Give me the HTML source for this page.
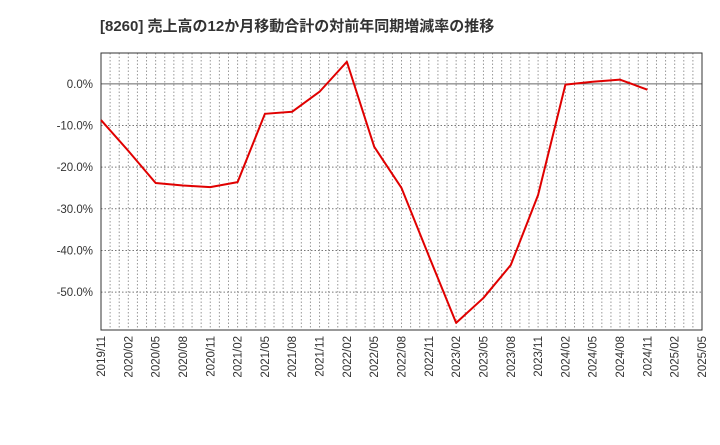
<!DOCTYPE html>
<html><head><meta charset="utf-8"><style>
body{margin:0;background:#fff;font-family:"Liberation Sans","Noto Sans CJK JP",sans-serif;}
</style></head><body>
<svg id="chart" width="720" height="440" xmlns="http://www.w3.org/2000/svg">
<text x="100" y="31" font-size="15" font-weight="bold" fill="#333" font-family="Liberation Sans, Noto Sans CJK JP, sans-serif">[8260]  売上高の12か月移動合計の対前年同期増減率の推移</text>
<g id="grid"></g><g id="axes"></g><g id="series"></g>
</svg>
<script>
const xLabels=["2019/11","2020/02","2020/05","2020/08","2020/11","2021/02","2021/05","2021/08","2021/11","2022/02","2022/05","2022/08","2022/11","2023/02","2023/05","2023/08","2023/11","2024/02","2024/05","2024/08","2024/11","2025/02","2025/05"];
const yTicks=[0,-10,-20,-30,-40,-50];
const values=[-8.7,-16.1,-23.8,-24.4,-24.8,-23.6,-7.2,-6.7,-1.9,5.3,-15.1,-25.0,-41.3,-57.4,-51.4,-43.5,-26.7,-0.2,0.5,1.0,-1.4];
const L=101,R=702,T=53,B=330,yMax=7.4,yMin=-59.1;
const X=i=>L+(R-L)*i/(xLabels.length-1);
const Y=v=>T+(yMax-v)/(yMax-yMin)*(B-T);
const NS="http://www.w3.org/2000/svg";
function mk(tag,parent,attrs){const e=document.createElementNS(NS,tag);for(const k in attrs)e.setAttribute(k,attrs[k]);document.getElementById(parent).appendChild(e);return e;}
const months=(xLabels.length-1)*3;
for(let m=1;m<months;m++){const x=L+(R-L)*m/months;
const g=mk("line","grid",{x1:x,x2:x,y1:T,y2:B,stroke:"#999","stroke-width":1,"stroke-dasharray":"1.5,2"});

}
yTicks.forEach(v=>{const y=Y(v);
const g=mk("line","grid",{x1:L,x2:R,y1:y,y2:y,stroke:v===0?"#666":"#777","stroke-width":1,"stroke-dasharray":v===0?"none":"1.5,2"});


const t=mk("text","axes",{x:L-8,y:y+4,"text-anchor":"end","font-size":11.5,fill:"#333"});t.textContent=v.toFixed(1)+"%";

});
xLabels.forEach((s,i)=>{const x=X(i);
const t=mk("text","axes",{x:0,y:0,transform:`translate(${x+4},${B+6}) rotate(-90)`,"text-anchor":"end","font-size":11.5,fill:"#333"});t.textContent=s;

});
const fr=mk("rect","axes",{x:L,y:T,width:R-L,height:B-T,fill:"none",stroke:"#333","stroke-width":1});


const p=mk("polyline","series",{points:values.map((v,i)=>X(i)+","+Y(v)).join(" "),fill:"none",stroke:"#e00000","stroke-width":2,"stroke-linejoin":"round"});


</script>
</body></html>
